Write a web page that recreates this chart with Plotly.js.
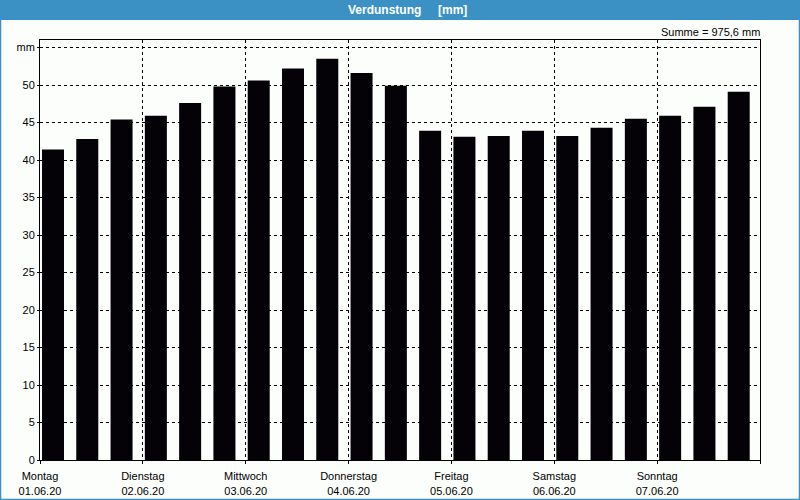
<!DOCTYPE html>
<html>
<head>
<meta charset="utf-8">
<script src="https://cdn.plot.ly/plotly-3.0.1.min.js"></script>
<style>html,body{margin:0;padding:0;background:#fcfefc;}#chart{width:800px;height:500px;}</style>
</head>
<body>
<div id="chart"></div>
<script>
// 3 values per day (slots of 8 hours)
const slots = [0,1,2,3,4,5,6,7,8,9,10,11,12,13,14,15,16,17,18,19,20];
const values = [41.4,42.8,45.4,45.9,47.6,49.8,50.6,52.2,53.5,51.6,49.9,43.9,43.1,43.2,43.9,43.2,44.3,45.5,45.9,47.1,49.1];
const dayTickVals = [0,3,6,9,12,15,18,21];
const dayTickText = ['Montag<br>01.06.20','Dienstag<br>02.06.20','Mittwoch<br>03.06.20','Donnerstag<br>04.06.20','Freitag<br>05.06.20','Samstag<br>06.06.20','Sonntag<br>07.06.20',''];
const yTickVals = [0,5,10,15,20,25,30,35,40,45,50,55];
const yTickText = ['0','5','10','15','20','25','30','35','40','45','50','mm'];
const titleText = 'Verdunstung\u00a0\u00a0\u00a0\u00a0\u00a0[mm]';
const sumText = 'Summe = 975,6 mm';

const blue = '#3b91c4';
const fnt = {family:'Liberation Sans, Arial, sans-serif', size:11, color:'#000'};

const trace = {
  type:'bar', x:slots, y:values,
  width:0.642, offset:0.058,
  marker:{color:'#040206', line:{width:0}},
  hoverinfo:'skip'
};

const layout = {
  width:800, height:500,
  margin:{l:40,r:40,t:40,b:40},
  paper_bgcolor:'#fcfefc', plot_bgcolor:'#fcfefc',
  showlegend:false,
  font:fnt,
  xaxis:{
    range:[0,21], tickmode:'array', tickvals:dayTickVals, ticktext:dayTickText,
    showgrid:true, gridcolor:'#000', gridwidth:1, griddash:'3px,3px',
    showline:true, linecolor:'#000', linewidth:1, mirror:true,
    ticks:'outside', ticklen:3, tickcolor:'#000', ticklabelstandoff:3,
    zeroline:false, tickfont:fnt, fixedrange:true
  },
  yaxis:{
    range:[0,56], tickmode:'array', tickvals:yTickVals, ticktext:yTickText,
    showgrid:true, gridcolor:'#000', gridwidth:1, griddash:'3px,3px',
    showline:true, linecolor:'#000', linewidth:1, mirror:true,
    ticks:'outside', ticklen:2, tickcolor:'#000',
    zeroline:false, tickfont:fnt, fixedrange:true
  },
  shapes:[
    {type:'rect', xref:'paper', yref:'paper', x0:-40/720, x1:1+40/720, y0:1+20/420, y1:1+40/420,
     fillcolor:blue, line:{width:0}, layer:'above'},
    {type:'line', xref:'paper', yref:'paper', x0:-40/720+0.0007, x1:-40/720+0.0007, y0:-40/420, y1:1+20/420, line:{color:blue,width:1.5}},
    {type:'line', xref:'paper', yref:'paper', x0:1+40/720-0.0007, x1:1+40/720-0.0007, y0:-40/420, y1:1+20/420, line:{color:blue,width:1.5}},
    {type:'line', xref:'paper', yref:'paper', x0:-40/720, x1:1+40/720, y0:-40/420+0.0012, y1:-40/420+0.0012, line:{color:blue,width:1.5}}
  ],
  annotations:[
    {xref:'paper', yref:'paper', x:(407-40)/720, y:1+30/420, xanchor:'center', yanchor:'middle',
     text:'<b>'+titleText+'</b>', showarrow:false,
     font:{family:'Liberation Sans, Arial, sans-serif', size:12, color:'#fff'}},
    {xref:'paper', yref:'paper', x:1+2/720, y:1+8/420, xanchor:'right', yanchor:'middle',
     text:sumText, showarrow:false, font:fnt}
  ]
};

Plotly.newPlot('chart',[trace],layout,{displayModeBar:false,staticPlot:true});
</script>
</body>
</html>
